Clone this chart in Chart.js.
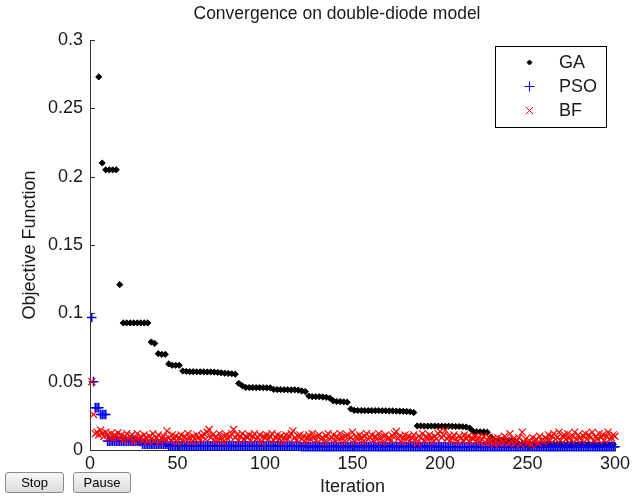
<!DOCTYPE html>
<html>
<head>
<meta charset="utf-8">
<title>Convergence on double-diode model</title>
<script src="https://cdn.jsdelivr.net/npm/chart.js@4.4.0/dist/chart.umd.min.js"></script>
<style>
  html, body { margin: 0; padding: 0; background: #fff; }
  #wrap { position: relative; width: 633px; height: 497px; }
  .btn {
    position: absolute; top: 472px; height: 21px; padding: 0;
    font: 13px 'Liberation Sans', Arial, sans-serif; color: #000;
    background: linear-gradient(#f7f7f7, #dcdcdc);
    border: 1px solid #8c8c8c; border-radius: 3px;
  }
</style>
</head>
<body>
<div id="wrap">
  <canvas id="conv" width="633" height="497"></canvas>
  <button class="btn" style="left:5px;width:59px">Stop</button>
  <button class="btn" style="left:73px;width:58px">Pause</button>
</div>
<script>
// tick labels
const xTickValues = [0, 50, 100, 150, 200, 250, 300];
const xTickLabels = ['0', '50', '100', '150', '200', '250', '300'];
const yTickValues = [0, 0.05, 0.1, 0.15, 0.2, 0.25, 0.3];
const yTickLabels = ['0', '0.05', '0.1', '0.15', '0.2', '0.25', '0.3'];

const seriesNames = ['GA', 'PSO', 'BF'];
const seriesColors = ['#000000', '#0000ff', '#ff0000'];

// GA is plotted every second iteration, first visible point at iteration 5
const gaFirstIter = 5;
const gaValues = [
  0.273, 0.210, 0.205, 0.205, 0.205, 0.205, 0.121, 0.093, 0.093, 0.093,
  0.093, 0.093, 0.093, 0.093, 0.093, 0.079, 0.078, 0.0705, 0.070, 0.070,
  0.063, 0.062, 0.062, 0.062, 0.0578, 0.0575, 0.0573, 0.0573, 0.0572, 0.0572,
  0.0572, 0.0571, 0.0571, 0.0570, 0.0568, 0.0565, 0.0562, 0.0560, 0.0558, 0.0555,
  0.0488, 0.0470, 0.0458, 0.0457, 0.0457, 0.0456, 0.0456, 0.0456, 0.0455, 0.0455,
  0.0443, 0.0442, 0.0442, 0.0441, 0.0441, 0.0440, 0.0440, 0.0438, 0.0432, 0.0428,
  0.0395, 0.0390, 0.0390, 0.0390, 0.0388, 0.0385, 0.0380, 0.0360, 0.0355, 0.0354,
  0.0352, 0.0350, 0.0300, 0.0290, 0.0289, 0.0289, 0.0288, 0.0288, 0.0288, 0.0288,
  0.0288, 0.0287, 0.0287, 0.0286, 0.0286, 0.0285, 0.0284, 0.0283, 0.0282, 0.0280,
  0.0274, 0.0176, 0.0176, 0.0175, 0.0175, 0.0175, 0.0175, 0.0175, 0.0174, 0.0174,
  0.0174, 0.0173, 0.0172, 0.0172, 0.0170, 0.0168, 0.0160, 0.0136, 0.0134, 0.0133,
  0.0132, 0.0130, 0.0095, 0.0072, 0.0070, 0.0070, 0.0069, 0.0068, 0.0067, 0.0065,
  0.0045, 0.0044, 0.0044, 0.0044, 0.0044, 0.0043, 0.0043, 0.0043, 0.0043, 0.0043,
  0.0043, 0.0042, 0.0042, 0.0042, 0.0042, 0.0042, 0.0041, 0.0041, 0.0041, 0.0041,
  0.0041, 0.0040, 0.0040, 0.0040, 0.0040, 0.0039, 0.0039, 0.0039
];

// PSO and BF, one value per iteration 1..300
const psoValues = [
  0.097, 0.050, 0.031, 0.031, 0.031, 0.026, 0.026, 0.026, 0.026, 0.0065, 0.0065, 0.0065, 0.0065, 0.0065, 0.0065, 0.0065, 0.0065, 0.0065, 0.0065, 0.0065,
  0.0065, 0.0065, 0.0065, 0.0065, 0.0064, 0.0064, 0.0064, 0.0063, 0.0063, 0.0042, 0.0042, 0.0042, 0.0042, 0.0042, 0.0042, 0.0042, 0.0042, 0.0042, 0.0042, 0.0042,
  0.0042, 0.0042, 0.0042, 0.0042, 0.003, 0.003, 0.003, 0.003, 0.003, 0.003, 0.003, 0.003, 0.003, 0.003, 0.003, 0.003, 0.003, 0.003, 0.003, 0.003,
  0.003, 0.003, 0.003, 0.003, 0.003, 0.003, 0.003, 0.003, 0.003, 0.003, 0.003, 0.003, 0.003, 0.003, 0.003, 0.003, 0.003, 0.003, 0.003, 0.003,
  0.003, 0.003, 0.003, 0.003, 0.003, 0.003, 0.003, 0.003, 0.003, 0.003, 0.003, 0.003, 0.003, 0.003, 0.003, 0.003, 0.003, 0.003, 0.003, 0.003,
  0.003, 0.003, 0.003, 0.003, 0.003, 0.003, 0.003, 0.003, 0.003, 0.003, 0.0028, 0.0028, 0.0028, 0.0028, 0.0028, 0.0028, 0.0028, 0.0028, 0.0028, 0.0028,
  0.0025, 0.0025, 0.0025, 0.0025, 0.0025, 0.0025, 0.0025, 0.0025, 0.0025, 0.0025, 0.0025, 0.0025, 0.0025, 0.0025, 0.0025, 0.0025, 0.0025, 0.0025, 0.0025, 0.0025,
  0.0025, 0.0025, 0.0025, 0.0025, 0.0025, 0.0025, 0.0025, 0.0025, 0.0025, 0.0025, 0.0025, 0.0025, 0.0025, 0.0025, 0.0025, 0.0025, 0.0025, 0.0025, 0.0025, 0.0025,
  0.0025, 0.0025, 0.0025, 0.0025, 0.0025, 0.0025, 0.0025, 0.0025, 0.0025, 0.0025, 0.0025, 0.0025, 0.0025, 0.0025, 0.0025, 0.0025, 0.0025, 0.0025, 0.0025, 0.0025,
  0.0025, 0.0025, 0.0025, 0.0025, 0.0025, 0.0025, 0.0025, 0.0025, 0.0025, 0.0025, 0.0025, 0.0025, 0.0025, 0.0025, 0.0025, 0.0025, 0.0025, 0.0025, 0.0025, 0.0025,
  0.0024, 0.0024, 0.0024, 0.0024, 0.0024, 0.0024, 0.0024, 0.0024, 0.0024, 0.0024, 0.0024, 0.0024, 0.0024, 0.0024, 0.0024, 0.0024, 0.0024, 0.0024, 0.0024, 0.0024,
  0.0024, 0.0024, 0.0024, 0.0024, 0.0024, 0.0024, 0.0024, 0.0024, 0.0024, 0.0024, 0.0024, 0.0024, 0.0024, 0.0024, 0.0024, 0.0024, 0.0024, 0.0024, 0.0024, 0.0024,
  0.0024, 0.0024, 0.0024, 0.0024, 0.0024, 0.0024, 0.0024, 0.0024, 0.0024, 0.0024, 0.0024, 0.0024, 0.0024, 0.0024, 0.0024, 0.0024, 0.0024, 0.0024, 0.0024, 0.0024,
  0.0024, 0.0024, 0.0024, 0.0024, 0.0024, 0.0024, 0.0024, 0.0024, 0.0024, 0.0024, 0.0024, 0.0024, 0.0024, 0.0024, 0.0024, 0.0024, 0.0024, 0.0024, 0.0024, 0.0024,
  0.0024, 0.0024, 0.0024, 0.0024, 0.0024, 0.0024, 0.0024, 0.0024, 0.0024, 0.0024, 0.0024, 0.0024, 0.0024, 0.0024, 0.0024, 0.0024, 0.0024, 0.0024, 0.0024, 0.0024
];

const bfValues = [
  0.050, 0.026, 0.012, 0.013, 0.011, 0.0145, 0.012, 0.010, 0.013, 0.011, 0.009, 0.012, 0.008, 0.011, 0.010, 0.0125, 0.009, 0.011, 0.007, 0.010,
  0.012, 0.008, 0.010, 0.011, 0.006, 0.009, 0.012, 0.008, 0.010, 0.007, 0.011, 0.009, 0.006, 0.010, 0.008, 0.012, 0.007, 0.009, 0.011, 0.006,
  0.009, 0.010, 0.008, 0.014, 0.009, 0.007, 0.011, 0.008, 0.010, 0.006, 0.009, 0.011, 0.007, 0.010, 0.008, 0.012, 0.009, 0.006, 0.010, 0.008,
  0.011, 0.009, 0.007, 0.010, 0.012, 0.008, 0.013, 0.015, 0.009, 0.011, 0.007, 0.010, 0.008, 0.012, 0.009, 0.006, 0.010, 0.011, 0.008, 0.010,
  0.012, 0.015, 0.009, 0.011, 0.007, 0.010, 0.012, 0.008, 0.010, 0.009, 0.011, 0.007, 0.010, 0.012, 0.008, 0.009, 0.011, 0.006, 0.010, 0.009,
  0.011, 0.008, 0.010, 0.012, 0.007, 0.009, 0.011, 0.008, 0.010, 0.006, 0.009, 0.011, 0.008, 0.010, 0.012, 0.014, 0.009, 0.007, 0.010, 0.011,
  0.008, 0.010, 0.006, 0.009, 0.011, 0.008, 0.012, 0.009, 0.007, 0.010, 0.011, 0.008, 0.009, 0.006, 0.010, 0.012, 0.008, 0.009, 0.011, 0.007,
  0.010, 0.008, 0.012, 0.009, 0.006, 0.010, 0.011, 0.008, 0.009, 0.013, 0.007, 0.010, 0.008, 0.011, 0.009, 0.006, 0.010, 0.012, 0.008, 0.009,
  0.011, 0.007, 0.010, 0.008, 0.012, 0.009, 0.006, 0.010, 0.011, 0.008, 0.009, 0.007, 0.010, 0.012, 0.0135, 0.008, 0.010, 0.006, 0.009, 0.011,
  0.008, 0.010, 0.007, 0.009, 0.011, 0.008, 0.005, 0.010, 0.009, 0.012, 0.007, 0.010, 0.008, 0.011, 0.009, 0.006, 0.010, 0.008, 0.012, 0.0135,
  0.009, 0.011, 0.0145, 0.008, 0.010, 0.007, 0.009, 0.011, 0.008, 0.006, 0.010, 0.009, 0.007, 0.011, 0.008, 0.010, 0.006, 0.009, 0.008, 0.010,
  0.007, 0.009, 0.006, 0.008, 0.010, 0.005, 0.007, 0.009, 0.006, 0.008, 0.004, 0.007, 0.009, 0.005, 0.008, 0.006, 0.010, 0.007, 0.005, 0.012,
  0.006, 0.008, 0.005, 0.007, 0.009, 0.004, 0.013, 0.006, 0.008, 0.005, 0.007, 0.004, 0.009, 0.006, 0.008, 0.005, 0.010, 0.007, 0.006, 0.009,
  0.008, 0.011, 0.007, 0.010, 0.012, 0.008, 0.009, 0.013, 0.007, 0.010, 0.011, 0.008, 0.012, 0.009, 0.007, 0.010, 0.013, 0.008, 0.011, 0.009,
  0.007, 0.010, 0.012, 0.008, 0.011, 0.009, 0.013, 0.007, 0.010, 0.008, 0.012, 0.009, 0.011, 0.007, 0.010, 0.013, 0.008, 0.009, 0.011, 0.010
];

const iterations = psoValues.map((_, i) => i + 1);
const gaIterations = gaValues.map((_, i) => gaFirstIter + 2 * i);

const FONT = "'Liberation Sans', Arial, sans-serif";
const TEXT = '#1a1a1a';
const AXIS = '#333';

const toPoints = (xs, ys) => ys.map((y, i) => ({ x: xs[i], y }));

// the figure title sits a bit left of the axes centre
const titleSpan = {
  id: 'titleSpan',
  afterLayout(chart) {
    if (chart.titleBlock) {
      chart.titleBlock.left = 59;
      chart.titleBlock.right = 615;
    }
  }
};

// small inward ticks, matlab style
const axisTicks = {
  id: 'axisTicks',
  afterDatasetsDraw(chart) {
    const { ctx, chartArea: a, scales: { x, y } } = chart;
    ctx.save();
    ctx.strokeStyle = AXIS;
    ctx.lineWidth = 1;
    ctx.beginPath();
    xTickValues.forEach(v => {
      const px = Math.round(x.getPixelForValue(v)) + 0.5;
      ctx.moveTo(px, a.bottom);
      ctx.lineTo(px, a.bottom - 5);
    });
    yTickValues.forEach(v => {
      const py = Math.round(y.getPixelForValue(v)) + 0.5;
      ctx.moveTo(a.left, py);
      ctx.lineTo(a.left + 5, py);
    });
    ctx.stroke();
    ctx.restore();
  }
};

// boxed legend inside the axes
const boxLegend = {
  id: 'boxLegend',
  afterDraw(chart) {
    const ctx = chart.ctx;
    ctx.save();
    ctx.fillStyle = '#fff';
    ctx.fillRect(495.5, 46.5, 111, 81);
    ctx.strokeStyle = '#000';
    ctx.lineWidth = 1;
    ctx.strokeRect(495.5, 46.5, 111, 81);
    seriesNames.forEach((name, i) => {
      const cx = 529.5, cy = 62.5 + i * 24;
      ctx.strokeStyle = seriesColors[i];
      ctx.fillStyle = seriesColors[i];
      ctx.lineWidth = 1;
      ctx.beginPath();
      if (i === 0) {
        const r = 2.5;
        ctx.moveTo(cx - r, cy); ctx.lineTo(cx, cy - r); ctx.lineTo(cx + r, cy); ctx.lineTo(cx, cy + r);
        ctx.closePath(); ctx.fill(); ctx.stroke();
      } else if (i === 1) {
        const r = 5;
        ctx.moveTo(cx - r, cy); ctx.lineTo(cx + r, cy);
        ctx.moveTo(cx, cy - r); ctx.lineTo(cx, cy + r);
        ctx.stroke();
      } else {
        const r = 3.5;
        ctx.moveTo(cx - r, cy - r); ctx.lineTo(cx + r, cy + r);
        ctx.moveTo(cx - r, cy + r); ctx.lineTo(cx + r, cy - r);
        ctx.stroke();
      }
      ctx.fillStyle = TEXT;
      ctx.font = '18px ' + FONT;
      ctx.textBaseline = 'middle';
      ctx.fillText(name, 559, cy + 1);
    });
    ctx.restore();
  }
};

new Chart(document.getElementById('conv'), {
  type: 'scatter',
  data: {
    datasets: [
      { label: seriesNames[0], data: toPoints(gaIterations, gaValues), pointStyle: 'rectRot', pointRadius: 3.1,
        borderColor: seriesColors[0], backgroundColor: seriesColors[0], borderWidth: 1, order: 2, clip: false },
      { label: seriesNames[1], data: toPoints(iterations, psoValues), pointStyle: 'cross', pointRadius: 4.8,
        borderColor: seriesColors[1], backgroundColor: seriesColors[1], borderWidth: 1.5, order: 1, clip: false },
      { label: seriesNames[2], data: toPoints(iterations, bfValues), pointStyle: 'crossRot', pointRadius: 5,
        borderColor: seriesColors[2], backgroundColor: seriesColors[2], borderWidth: 1.2, order: 0, clip: false }
    ]
  },
  options: {
    responsive: false,
    animation: false,
    devicePixelRatio: 1,
    layout: { padding: { left: 0, right: 18, top: 0, bottom: 0 } },
    plugins: {
      legend: { display: false },
      tooltip: { enabled: false },
      title: {
        display: true,
        text: 'Convergence on double-diode model',
        color: TEXT,
        font: { family: FONT, size: 17.5, weight: 'normal', lineHeight: 1.2 },
        padding: { top: 3.5, bottom: 15.5 }
      }
    },
    scales: {
      x: {
        type: 'linear', min: 0, max: 300,
        afterBuildTicks: s => { s.ticks = xTickValues.map(v => ({ value: v })); },
        afterFit: s => { s.height = 47; s.paddingLeft = 0; s.paddingRight = 0; },
        ticks: { padding: 3, autoSkip: false, maxRotation: 0, color: TEXT,
          font: { family: FONT, size: 18 },
          callback: v => xTickLabels[xTickValues.indexOf(v)] },
        grid: { display: false, drawTicks: false },
        border: { display: true, color: AXIS, width: 1 },
        title: { display: true, text: 'Iteration', color: TEXT,
          font: { family: FONT, size: 18, lineHeight: 1 }, padding: { top: 0, bottom: 0.5 } }
      },
      y: {
        type: 'linear', min: 0, max: 0.3,
        afterBuildTicks: s => { s.ticks = yTickValues.map(v => ({ value: v })); },
        afterFit: s => { s.width = 90; s.paddingTop = 0; s.paddingBottom = 0; },
        ticks: { padding: 7, color: TEXT, font: { family: FONT, size: 18 },
          callback: v => yTickLabels[yTickValues.indexOf(v)] },
        grid: { display: false, drawTicks: false },
        border: { display: true, color: AXIS, width: 1 },
        title: { display: true, text: 'Objective Function', color: TEXT,
          font: { family: FONT, size: 18, lineHeight: 1 }, padding: { top: 21, bottom: 0 } }
      }
    }
  },
  plugins: [titleSpan, axisTicks, boxLegend]
});
</script>
</body>
</html>
